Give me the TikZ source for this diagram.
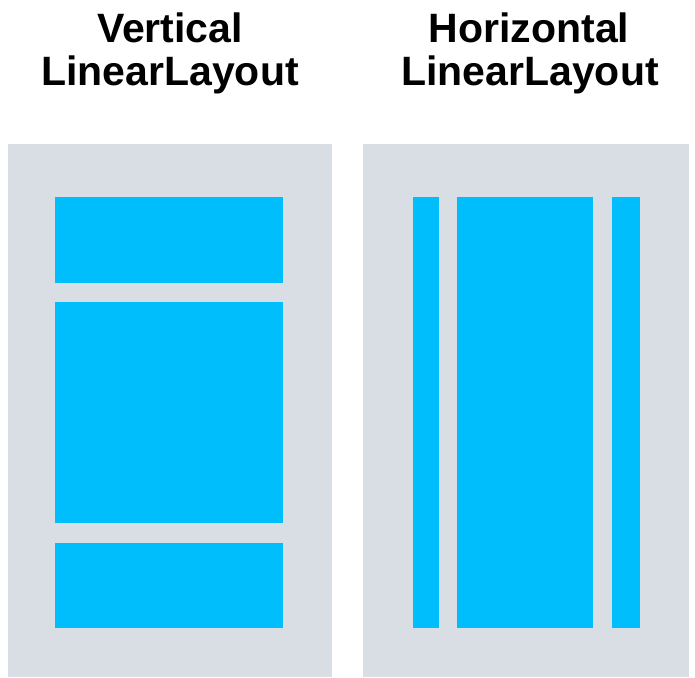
\documentclass[tikz,border=0pt]{standalone}
\usepackage{fontspec}
\setmainfont{Liberation Sans}

\definecolor{panelgray}{RGB}{217,222,228}
\definecolor{itemblue}{RGB}{0,190,252}

\begin{document}
\begin{tikzpicture}[x=1pt,y=-1pt,
		title/.style={anchor=base,inner sep=0pt,font=\bfseries\fontsize{41}{43}\selectfont},
		panel/.style={fill=panelgray,draw=none},
		item/.style={fill=itemblue,draw=none}]
		\useasboundingbox (0,0) rectangle (695,677);

		% Vertical LinearLayout
		\node[title] (vtitle) at (170,42) {Vertical};
		\node[title] (vname) at (170,85) {LinearLayout};
		\fill[panel] (8,144) rectangle (332,677);
		\fill[item] (55,197) rectangle (283,283);
		\fill[item] (55,302) rectangle (283,523);
		\fill[item] (55,543) rectangle (283,628);

		% Horizontal LinearLayout
		\node[title] (htitle) at (529,42) {Horizontal};
		\node[title] (hname) at (530,85) {LinearLayout};
		\fill[panel] (363,144) rectangle (689,677);
		\fill[item] (413,197) rectangle (439,628);
		\fill[item] (457,197) rectangle (593,628);
		\fill[item] (612,197) rectangle (640,628);
	\end{tikzpicture}
\end{document}
